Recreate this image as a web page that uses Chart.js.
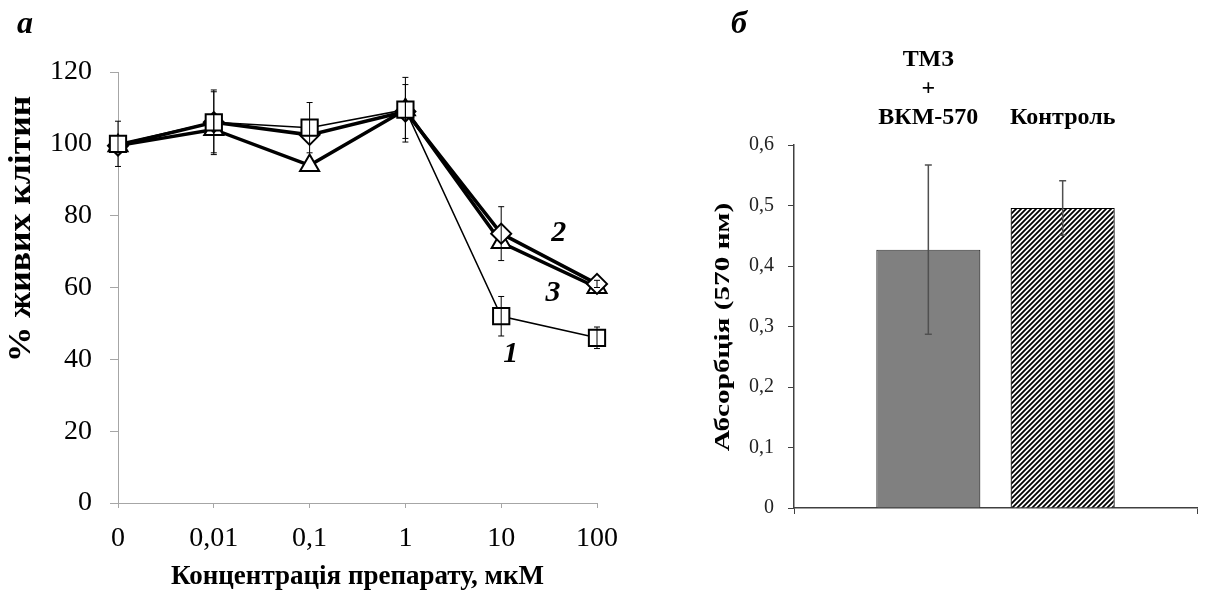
<!DOCTYPE html>
<html>
<head>
<meta charset="utf-8">
<script src="https://cdn.jsdelivr.net/npm/chart.js@4.4.0/dist/chart.umd.min.js"></script>
<style>
  body { margin: 0; background: #fff; width: 1222px; height: 605px; position: relative; overflow: hidden; }
  .panel { position: absolute; top: 0; height: 605px; }
  .tag { position: absolute; font: italic bold 32px 'Liberation Serif', serif; color: #000; }
</style>
</head>
<body>
<div class="panel" style="left:0;width:665px"><canvas id="left"></canvas></div>
<div class="panel" style="left:665px;width:557px"><canvas id="right"></canvas></div>
<div class="tag" style="left:17px;top:4px">а</div>
<div class="tag" style="left:731px;top:4px">б</div>
<script>
// panel a: viability vs concentration
const concLabels = ['0', '0,01', '0,1', '1', '10', '100'];
const curve1 = [100, 106, 104.5, 109.5, 52, 46];
const curve1Err = [6.3, 9, 7, 9, 5.5, 3];
const curve2 = [99.5, 106, 102.5, 109, 75, 61];
const curve2Err = [0, 8.5, 0, 7.5, 7.5, 1];
const curve3 = [99.5, 104, 94, 109.5, 72.5, 60];
const curve3Err = [0, 0, 0, 0, 0, 0];

// panel б: absorbance
const groupLines = [['ТМЗ', '+', 'ВКМ-570'], 'Контроль'];
const absorb = [0.427, 0.496];
const absorbErr = [0.14, 0.045];

const serif = "'Liberation Serif', 'Times New Roman', serif";

const errorBars = {
  id: 'errorBars',
  afterDatasetsDraw(chart, args, opts) {
    const { ctx } = chart;
    const y = chart.scales.y;
    chart.data.datasets.forEach((ds, i) => {
      if (!ds.errors) return;
      const meta = chart.getDatasetMeta(i);
      ctx.save();
      ctx.strokeStyle = opts.color;
      ctx.lineWidth = opts.width;
      meta.data.forEach((el, j) => {
        const e = ds.errors[j];
        if (!e || ds.data[j] == null) return;
        const top = y.getPixelForValue(ds.data[j] + e);
        const bot = y.getPixelForValue(ds.data[j] - e);
        ctx.beginPath();
        ctx.moveTo(el.x, top); ctx.lineTo(el.x, bot);
        ctx.moveTo(el.x - opts.cap, top); ctx.lineTo(el.x + opts.cap, top);
        ctx.moveTo(el.x - opts.cap, bot); ctx.lineTo(el.x + opts.cap, bot);
        ctx.stroke();
      });
      ctx.restore();
    });
  }
};

// rotated y title, stretched along its length like the original
const sideTitle = {
  id: 'sideTitle',
  afterDraw(chart, args, o) {
    const { ctx } = chart;
    ctx.save();
    ctx.fillStyle = '#000';
    ctx.textAlign = 'center';
    ctx.textBaseline = 'middle';
    ctx.font = o.font;
    ctx.translate(o.x, o.y);
    ctx.rotate(-Math.PI / 2);
    ctx.scale(o.stretch, 1);
    ctx.fillText(o.text, 0, 0);
    ctx.restore();
  }
};

// curve numbers of panel a
const curveNums = {
  id: 'curveNums',
  afterDraw(chart) {
    const { ctx, scales: { x, y } } = chart;
    ctx.save();
    ctx.fillStyle = '#000';
    ctx.textAlign = 'center';
    ctx.textBaseline = 'middle';
    ctx.font = 'italic bold 30px ' + serif;
    ctx.fillText('2', x.getPixelForValue(4.6), y.getPixelForValue(75));
    ctx.fillText('3', x.getPixelForValue(4.54), y.getPixelForValue(58.5));
    ctx.fillText('1', x.getPixelForValue(4.1), y.getPixelForValue(41.5));
    ctx.restore();
  }
};

const grey = '#a6a6a6';

new Chart(document.getElementById('left'), {
  type: 'line',
  data: {
    labels: concLabels,
    datasets: [
      {
        data: curve1, errors: curve1Err,
        borderColor: '#000', borderWidth: 1.5,
        pointStyle: 'rect', pointRadius: 11.5, pointHoverRadius: 11.5,
        pointBackgroundColor: '#fff', pointBorderColor: '#000', pointBorderWidth: 2
      },
      {
        data: curve2, errors: curve2Err,
        borderColor: '#000', borderWidth: 3.5,
        pointStyle: 'rectRot', pointRadius: 10, pointHoverRadius: 10,
        pointBackgroundColor: '#fff', pointBorderColor: '#000', pointBorderWidth: 2
      },
      {
        data: curve3, errors: curve3Err,
        borderColor: '#000', borderWidth: 3.5,
        pointStyle: 'triangle', pointRadius: 11, pointHoverRadius: 11,
        pointBackgroundColor: '#fff', pointBorderColor: '#000', pointBorderWidth: 2
      }
    ]
  },
  options: {
    responsive: true,
    maintainAspectRatio: false,
    animation: false,
    layout: { padding: { top: 72, right: 68, bottom: 0, left: 0 } },
    plugins: {
      legend: { display: false },
      tooltip: { enabled: false },
      errorBars: { color: '#000', width: 1, cap: 3 },
      sideTitle: { text: '% живих клітин', x: 22, y: 229, font: 'bold 31px ' + serif, stretch: 1.15 }
    },
    scales: {
      x: {
        offset: false,
        afterFit: (s) => { s.height = 102; },
        grid: { drawOnChartArea: false, color: grey, tickLength: 5 },
        border: { color: grey },
        ticks: { color: '#000', font: { family: serif, size: 28 }, padding: 14, maxRotation: 0 },
        title: {
          display: true, text: 'Концентрація препарату, мкМ', color: '#000',
          font: { family: serif, size: 27, weight: 'bold' }, padding: { top: 0, bottom: 12 }
        }
      },
      y: {
        min: 0, max: 120,
        afterFit: (s) => { s.width = 118; },
        grid: { drawOnChartArea: false, color: grey, tickLength: 8 },
        border: { color: grey },
        ticks: { stepSize: 20, color: '#000', font: { family: serif, size: 28 }, padding: 18 }
      }
    }
  },
  plugins: [errorBars, curveNums, sideTitle]
});

// hatch for the control bar
const tile = document.createElement('canvas');
tile.width = 5; tile.height = 5;
const tc = tile.getContext('2d');
tc.fillStyle = '#fff';
tc.fillRect(0, 0, 5, 5);
tc.strokeStyle = '#000';
tc.lineWidth = 1.8;
tc.beginPath();
tc.moveTo(0, 5); tc.lineTo(5, 0);
tc.moveTo(-1, 1); tc.lineTo(1, -1);
tc.moveTo(4, 6); tc.lineTo(6, 4);
tc.stroke();
const hatch = tc.createPattern(tile, 'repeat');

const dark = '#404040';
const edgeTicks = (c) => (c.index === 0 || c.index === 3) ? dark : 'rgba(0,0,0,0)';

new Chart(document.getElementById('right'), {
  type: 'bar',
  data: {
    labels: ['', ...groupLines, ''],
    datasets: [{
      data: [null, ...absorb, null],
      errors: [0, ...absorbErr, 0],
      backgroundColor: ['#fff', '#808080', hatch, '#fff'],
      borderColor: ['#000', '#333', '#000', '#000'],
      borderWidth: 1.2,
      categoryPercentage: 1,
      barPercentage: 0.775
    }]
  },
  options: {
    responsive: true,
    maintainAspectRatio: false,
    animation: false,
    layout: { padding: { top: 0, right: 25, bottom: 0, left: 0 } },
    plugins: {
      legend: { display: false },
      tooltip: { enabled: false },
      errorBars: { color: '#505050', width: 1.5, cap: 3.5 },
      sideTitle: { text: 'Абсорбція (570 нм)', x: 58, y: 327, font: 'bold 22px ' + serif, stretch: 1.33 }
    },
    scales: {
      x: {
        offset: false,
        afterFit: (s) => { s.height = 97; },
        grid: { offset: false, drawOnChartArea: false, color: edgeTicks, tickLength: 6 },
        border: { color: dark, width: 1.5 },
        ticks: { display: false }
      },
      x2: {
        type: 'category',
        position: 'top',
        labels: ['', ...groupLines, ''],
        offset: false,
        afterFit: (s) => { s.height = 145; },
        grid: { display: false, drawTicks: false },
        border: { display: false },
        ticks: {
          color: '#000', maxRotation: 0, autoSkip: false, padding: 13,
          font: { family: serif, size: 24, weight: 'bold', lineHeight: 1.2 }
        }
      },
      y: {
        min: 0, max: 0.6,
        afterFit: (s) => { s.width = 129; },
        grid: { drawOnChartArea: false, color: dark, tickLength: 6 },
        border: { color: dark, width: 1.5 },
        ticks: {
          stepSize: 0.1, color: '#222', padding: 14,
          font: { family: serif, size: 20 },
          callback: (v) => v === 0 ? '0' : v.toFixed(1).replace('.', ',')
        }
      }
    }
  },
  plugins: [errorBars, sideTitle]
});
</script>
</body>
</html>
